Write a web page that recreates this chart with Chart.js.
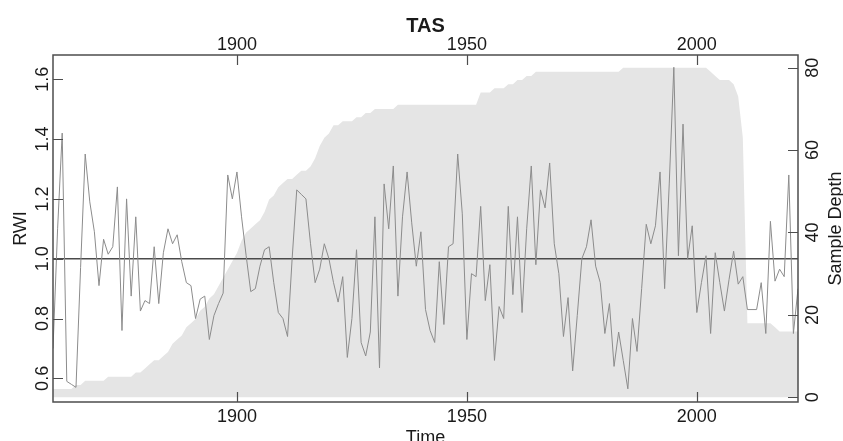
<!DOCTYPE html>
<html>
<head>
<meta charset="utf-8">
<title>TAS</title>
<script src="https://cdn.jsdelivr.net/npm/chart.js@4.4.1/dist/chart.umd.min.js"></script>
<style>
  html, body { margin: 0; padding: 0; background: #fff; }
  canvas { display: block; }
</style>
</head>
<body>
<canvas id="crn" width="843" height="441"></canvas>
<script>
// chronology TAS: ring width index per year and number of samples per year
const firstYear = 1860;

const rwi = [
  0.70, 1.10, 1.42, 0.59, 0.58, 0.57, 0.97, 1.35, 1.19, 1.09,   // 1860s
  0.91, 1.065, 1.015, 1.04, 1.24, 0.76, 1.20, 0.875, 1.14, 0.825, // 1870s
  0.86, 0.85, 1.04, 0.85, 1.02, 1.10, 1.05, 1.08, 0.99, 0.92,   // 1880s
  0.91, 0.80, 0.865, 0.875, 0.73, 0.81, 0.85, 0.885, 1.28, 1.20, // 1890s
  1.29, 1.14, 1.01, 0.89, 0.90, 0.975, 1.03, 1.04, 0.92, 0.82,  // 1900s
  0.80, 0.74, 1.00, 1.23, 1.215, 1.20, 1.05, 0.92, 0.965, 1.05, // 1910s
  1.00, 0.92, 0.855, 0.94, 0.67, 0.80, 1.03, 0.72, 0.675, 0.755, // 1920s
  1.14, 0.635, 1.25, 1.10, 1.31, 0.875, 1.14, 1.29, 1.12, 0.975, // 1930s
  1.09, 0.83, 0.76, 0.72, 0.99, 0.78, 1.04, 1.05, 1.35, 1.15,   // 1940s
  0.73, 0.95, 0.94, 1.175, 0.86, 0.98, 0.66, 0.84, 0.80, 1.175, // 1950s
  0.88, 1.14, 0.82, 1.10, 1.31, 0.98, 1.23, 1.17, 1.32, 1.05,   // 1960s
  0.95, 0.74, 0.87, 0.625, 0.81, 1.00, 1.04, 1.13, 0.975, 0.92, // 1970s
  0.75, 0.85, 0.64, 0.755, 0.66, 0.565, 0.80, 0.69, 0.90, 1.115, // 1980s
  1.05, 1.11, 1.29, 0.90, 1.25, 1.64, 1.01, 1.45, 1.00, 1.11,   // 1990s
  0.82, 0.92, 1.01, 0.75, 1.02, 0.92, 0.825, 0.93, 1.025, 0.915, // 2000s
  0.94, 0.83, 0.83, 0.83, 0.92, 0.75, 1.125, 0.925, 0.965, 0.94, // 2010s
  1.28, 0.75, 0.90                                              // 2020s
];

const sampleDepth = [
  2, 2, 2, 2, 2, 3, 3, 4, 4, 4,
  4, 4, 5, 5, 5, 5, 5, 5, 6, 6,
  7, 8, 9, 9, 10, 11, 13, 14, 15, 17,
  18, 19, 21, 22, 24, 25, 27, 29, 31, 33,
  35, 38, 40, 41, 42, 43, 45, 48, 49, 51,
  52, 53, 53, 54, 55, 55, 56, 58, 61, 63,
  64, 66, 66, 67, 67, 67, 68, 68, 69, 69,
  70, 70, 70, 70, 70, 71, 71, 71, 71, 71,
  71, 71, 71, 71, 71, 71, 71, 71, 71, 71,
  71, 71, 71, 74, 74, 74, 75, 75, 75, 76,
  76, 77, 77, 78, 78, 79, 79, 79, 79, 79,
  79, 79, 79, 79, 79, 79, 79, 79, 79, 79,
  79, 79, 79, 79, 80, 80, 80, 80, 80, 80,
  80, 80, 80, 80, 80, 80, 80, 80, 80, 80,
  80, 80, 80, 79, 78, 77, 77, 77, 76, 73,
  63, 18, 18, 18, 18, 18, 18, 17, 16, 16,
  16, 16, 16
];

const years = rwi.map((v, i) => firstYear + i);
const meanLevel = 1;

const yearTicks = [1900, 1950, 2000];
const rwiTicks = [0.6, 0.8, 1.0, 1.2, 1.4, 1.6];
const rwiTickLabels = ['0.6', '0.8', '1.0', '1.2', '1.4', '1.6'];
const depthTicks = [0, 20, 40, 60, 80];

const FONT = '"Liberation Sans", Arial, sans-serif';
const TICK_LEN = 10;

// R-style frame: box, inward ticks on all four sides, rotated labels on the y axes
const frame = {
  id: 'frame',
  afterDraw(chart) {
    const { ctx, chartArea: a, scales } = chart;
    const x = scales.x, y = scales.y, y2 = scales.y2;
    ctx.save();

    ctx.strokeStyle = '#4d4d4d';
    ctx.lineWidth = 1.5;
    ctx.strokeRect(a.left, a.top, a.right - a.left, a.bottom - a.top);

    ctx.lineWidth = 1.2;
    ctx.beginPath();
    yearTicks.forEach(t => {
      const px = Math.round(x.getPixelForValue(t)) + 0.5;
      ctx.moveTo(px, a.top); ctx.lineTo(px, a.top + TICK_LEN);
      ctx.moveTo(px, a.bottom); ctx.lineTo(px, a.bottom - TICK_LEN);
    });
    rwiTicks.forEach(t => {
      const py = Math.round(y.getPixelForValue(t)) + 0.5;
      ctx.moveTo(a.left, py); ctx.lineTo(a.left + TICK_LEN, py);
    });
    depthTicks.forEach(t => {
      const py = Math.round(y2.getPixelForValue(t)) + 0.5;
      ctx.moveTo(a.right, py); ctx.lineTo(a.right - TICK_LEN, py);
    });
    ctx.stroke();

    ctx.fillStyle = '#1a1a1a';
    ctx.font = '18px ' + FONT;
    ctx.textAlign = 'center';
    ctx.textBaseline = 'alphabetic';
    yearTicks.forEach(t => {
      const px = x.getPixelForValue(t);
      ctx.fillText(String(t), px, 50);
      ctx.fillText(String(t), px, 422);
    });

    const vertical = (text, bx, cy) => {
      ctx.save();
      ctx.translate(bx, cy);
      ctx.rotate(-Math.PI / 2);
      ctx.fillText(text, 0, 0);
      ctx.restore();
    };
    rwiTicks.forEach((t, i) => vertical(rwiTickLabels[i], 48, y.getPixelForValue(t)));
    depthTicks.forEach(t => vertical(String(t), 818, y2.getPixelForValue(t)));

    const midY = (a.top + a.bottom) / 2;
    const midX = (a.left + a.right) / 2;
    vertical('RWI', 26, midY);
    vertical('Sample Depth', 841, midY);
    ctx.fillText('Time', midX, 443);

    ctx.font = 'bold 20px ' + FONT;
    ctx.fillText('TAS', midX, 32);
    ctx.restore();
  }
};

new Chart(document.getElementById('crn'), {
  type: 'line',
  data: {
    datasets: [
      {
        label: 'RWI',
        data: years.map((yr, i) => ({ x: yr, y: rwi[i] })),
        yAxisID: 'y',
        borderColor: '#8c8c8c',
        borderWidth: 1,
        pointRadius: 0,
        tension: 0,
        fill: false,
        order: 0
      },
      {
        label: 'mean',
        data: [{ x: years[0], y: meanLevel }, { x: years[years.length - 1], y: meanLevel }],
        yAxisID: 'y',
        borderColor: '#4a4a4a',
        borderWidth: 1.5,
        pointRadius: 0,
        fill: false,
        order: 1
      },
      {
        label: 'Sample Depth',
        data: years.map((yr, i) => ({ x: yr, y: sampleDepth[i] })),
        yAxisID: 'y2',
        borderColor: 'transparent',
        borderWidth: 0,
        backgroundColor: '#e5e5e5',
        pointRadius: 0,
        tension: 0,
        fill: { value: 0 },
        order: 2
      }
    ]
  },
  options: {
    responsive: false,
    animation: false,
    layout: { padding: { left: 53, top: 55, right: 45, bottom: 39 } },
    scales: {
      x: { type: 'linear', min: 1860, max: 2022, display: false },
      y: { min: 0.521, max: 1.681, display: false },
      y2: { min: -1.14, max: 83.08, display: false, position: 'right' }
    },
    plugins: {
      legend: { display: false },
      tooltip: { enabled: false }
    }
  },
  plugins: [frame]
});
</script>
</body>
</html>
